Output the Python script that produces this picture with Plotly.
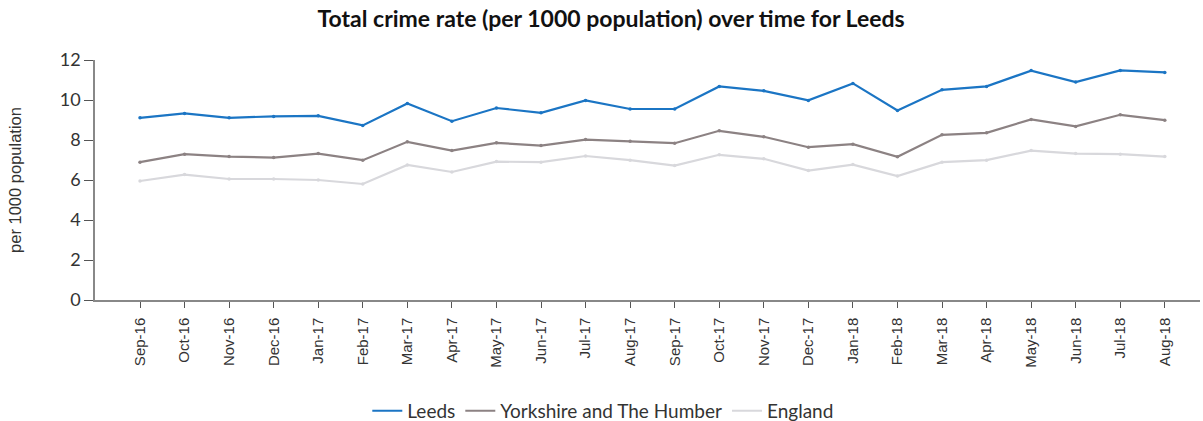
import plotly.graph_objects as go

months = ["Sep-16", "Oct-16", "Nov-16", "Dec-16", "Jan-17", "Feb-17", "Mar-17", "Apr-17",
          "May-17", "Jun-17", "Jul-17", "Aug-17", "Sep-17", "Oct-17", "Nov-17", "Dec-17",
          "Jan-18", "Feb-18", "Mar-18", "Apr-18", "May-18", "Jun-18", "Jul-18", "Aug-18"]

leeds = [9.11, 9.33, 9.11, 9.18, 9.21, 8.73, 9.83, 8.94, 9.60, 9.36, 9.98, 9.55,
         9.55, 10.68, 10.46, 9.98, 10.83, 9.48, 10.51, 10.68, 11.47, 10.90, 11.48, 11.38]
yorkshire = [6.89, 7.29, 7.17, 7.12, 7.32, 6.99, 7.91, 7.47, 7.86, 7.72, 8.02, 7.94,
             7.84, 8.46, 8.16, 7.64, 7.79, 7.16, 8.26, 8.36, 9.03, 8.68, 9.26, 8.99]
england = [5.95, 6.27, 6.05, 6.05, 6.00, 5.80, 6.75, 6.40, 6.92, 6.89, 7.20, 6.99,
           6.72, 7.26, 7.06, 6.47, 6.77, 6.20, 6.89, 6.99, 7.47, 7.32, 7.29, 7.17]

y_ticks = [0, 2, 4, 6, 8, 10, 12]

series = [
    ("Leeds", leeds, "#1b75c4"),
    ("Yorkshire and The Humber", yorkshire, "#8c8283"),
    ("England", england, "#d8d8dc"),
]

x_idx = list(range(len(months)))

fig = go.Figure()
for name, values, color in series:
    # line shown in the legend
    fig.add_trace(go.Scatter(
        x=x_idx, y=values, name=name, mode="lines",
        line=dict(color=color, width=2.2),
    ))
    # small vertex dots, kept out of the legend
    fig.add_trace(go.Scatter(
        x=x_idx, y=values, name=name, mode="markers", showlegend=False,
        marker=dict(color=color, size=3.5),
    ))

fig.update_layout(
    width=1203, height=421,
    margin=dict(l=95, r=3, t=60, b=121, autoexpand=False),
    paper_bgcolor="white", plot_bgcolor="white",
    title=dict(
        text="<b>Total crime rate (per 1000 population) over time for Leeds</b>",
        x=0.508, xanchor="center", y=0.955, yanchor="middle",
        font=dict(family="Lato", size=23, color="#111111"),
    ),
    showlegend=True,
    legend=dict(
        orientation="h", x=0.46, xanchor="center",
        yref="container", y=0.024, yanchor="middle",
        font=dict(family="Lato", size=19, color="#333333"),
        tracegroupgap=0,
    ),
    xaxis=dict(
        tickmode="array", tickvals=x_idx, ticktext=months,
        range=[-1.01, 23.79],
        tickangle=-90, automargin=False, ticklabelstandoff=4,
        showline=True, linecolor="#888888", linewidth=1.5,
        ticks="outside", ticklen=6, tickcolor="#555555",
        showgrid=False, zeroline=False,
        tickfont=dict(family="Liberation Sans", size=15, color="#333333"),
    ),
    yaxis=dict(
        range=[0, 12], tickvals=y_ticks, automargin=False,
        showline=True, linecolor="#888888", linewidth=1.5,
        ticks="outside", ticklen=9, tickcolor="#555555",
        showgrid=False, zeroline=False,
        tickfont=dict(family="Lato", size=18, color="#333333"),
        title=dict(text="per 1000 population", standoff=34,
                   font=dict(family="Liberation Sans", size=16.5, color="#333333")),
    ),
)

fig.write_html("out.html")
